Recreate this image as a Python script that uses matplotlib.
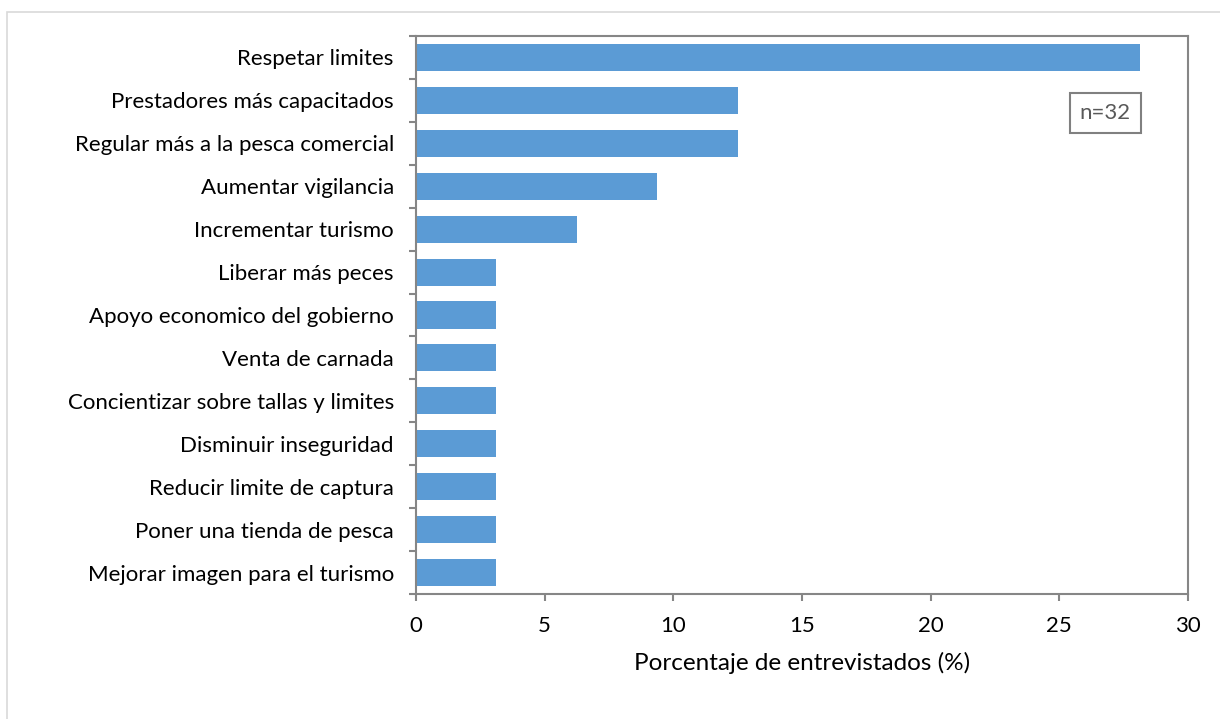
import matplotlib.pyplot as plt
from matplotlib.patches import Rectangle

plt.rcParams['font.family'] = ['Lato', 'DejaVu Sans']

categories = [
    "Respetar limites",
    "Prestadores más capacitados",
    "Regular más a la pesca comercial",
    "Aumentar vigilancia",
    "Incrementar turismo",
    "Liberar más peces",
    "Apoyo economico del gobierno",
    "Venta de carnada",
    "Concientizar sobre tallas y limites",
    "Disminuir inseguridad",
    "Reducir limite de captura",
    "Poner una tienda de pesca",
    "Mejorar imagen para el turismo",
]
porcentaje = [28.125, 12.5, 12.5, 9.375, 6.25, 3.125, 3.125, 3.125, 3.125, 3.125, 3.125, 3.125, 3.125]
x_ticks = [0, 5, 10, 15, 20, 25, 30]

fig = plt.figure(figsize=(12.2, 7.19), dpi=100)
ax = fig.add_axes([416 / 1220, 1 - 594 / 719, 772 / 1220, 558 / 719])

# outer chart border
fig.patches.append(Rectangle((7 / 1220, -0.1), 1.2, 1 - 12 / 719 + 0.1,
                             transform=fig.transFigure, fill=False,
                             edgecolor='#d9d9d9', linewidth=1.2))

y = list(range(len(categories)))
ax.barh(y, porcentaje, height=0.63, color='#5b9bd5', zorder=2)
ax.set_ylim(len(categories) - 0.5, -0.5)
ax.set_xlim(0, 30)
ax.set_xticks(x_ticks)
ax.set_xticklabels([str(v) for v in x_ticks])

# category labels without ticks, boundary ticks between categories
ax.set_yticks(y)
ax.set_yticklabels(categories)
ax.tick_params(axis='y', which='major', length=0, pad=16, labelsize=16)
ax.set_yticks([i - 0.5 for i in range(len(categories) + 1)], minor=True)
ax.tick_params(axis='y', which='minor', length=5, width=1.5, color='#868686', direction='out')
ax.tick_params(axis='x', length=5, width=1.5, color='#868686', direction='out', labelsize=16, pad=11)

for s in ax.spines.values():
    s.set_color('#868686')
    s.set_linewidth(1.5)

ax.set_xlabel("Porcentaje de entrevistados (%)", fontsize=17.5, labelpad=11)

ax.text(0.893, 0.862, "n=32", transform=ax.transAxes, ha='center', va='center',
        fontsize=16, color='#595959',
        bbox=dict(boxstyle='square,pad=0.45', facecolor='white', edgecolor='#808080', linewidth=1.5))

fig.savefig("out.png", dpi=100)
